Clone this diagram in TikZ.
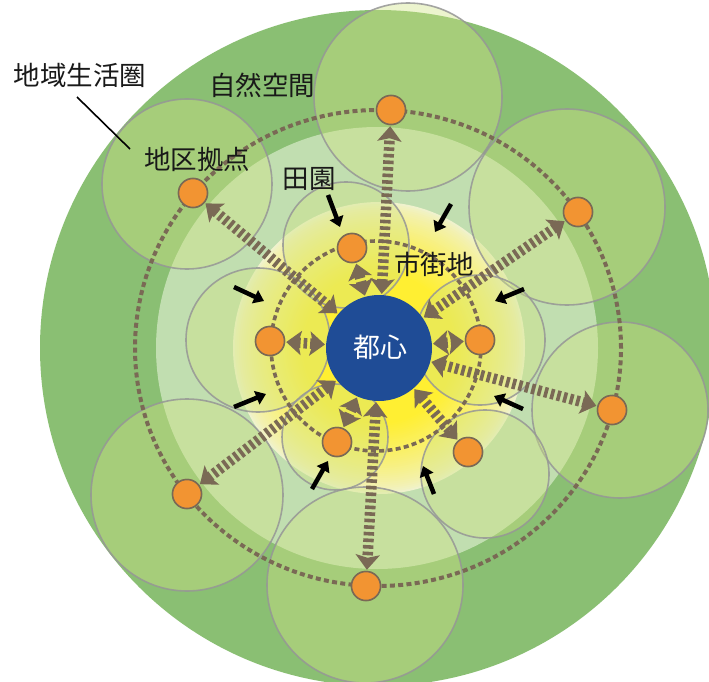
\documentclass[tikz,border=0pt]{standalone}
\usepackage{fontspec}
\setmainfont{Noto Sans CJK JP}
\usetikzlibrary{arrows.meta}
\definecolor{dgreen}{RGB}{138,191,115}
\definecolor{pale}{RGB}{193,222,176}
\definecolor{cfill}{RGB}{208,228,133}
\definecolor{cline}{RGB}{150,150,150}
\definecolor{yel}{RGB}{255,239,50}
\definecolor{yelout}{RGB}{240,242,205}
\definecolor{brownc}{RGB}{122,105,85}
\definecolor{orangec}{RGB}{242,148,50}
\definecolor{bluec}{RGB}{31,76,150}
\definecolor{txt}{RGB}{25,25,25}
\begin{document}
\begin{tikzpicture}[x=1pt,y=-1pt,
  zone/.style={fill=cfill, fill opacity=0.4, draw=cline, draw opacity=0.85, line width=1.6pt},
  ring/.style={draw=brownc, line width=4pt, dash pattern=on 5pt off 3.3pt},
  hub/.style={circle, fill=orangec, draw=brownc, line width=1.5pt, minimum size=29pt, inner sep=0pt},
  ladder/.style={draw=brownc, line width=10.5pt, dash pattern=on 3.6pt off 3pt,
    {Stealth[length=15pt,width=24pt,inset=3pt]}-{Stealth[length=15pt,width=24pt,inset=3pt]},
    shorten <=1pt, shorten >=1pt},
  push/.style={draw=black, line width=4.5pt, -{Triangle[length=10pt,width=14pt]}},
  lbl/.style={font=\fontsize{26.5}{30}\selectfont, text=txt, inner sep=0pt}]
\useasboundingbox (0,0) rectangle (709,682);
\fill[white] (0,0) rectangle (709,682);
% base zones
\fill[dgreen] (378,348) circle[radius=338pt];
\fill[pale] (377,348) circle[radius=221pt];
% yellow gradient built from concentric discs
\foreach \r in {146,144,...,76}{
  \pgfmathsetmacro{\t}{100*((146-\r)/70)^0.75}
  \fill[yel!\t!yelout] (379,348) circle[radius=\r pt];
}
% translucent catchment circles
\path[zone] (408,97) circle[radius=94pt];
\path[zone] (187,184) circle[radius=85pt];
\path[zone] (567,207) circle[radius=98pt];
\path[zone] (620,410) circle[radius=88pt];
\path[zone] (187,495) circle[radius=96pt];
\path[zone] (365,585) circle[radius=98pt];
\path[zone] (346,245) circle[radius=63pt];
\path[zone] (258,340) circle[radius=72pt];
\path[zone] (480,340) circle[radius=65pt];
\path[zone] (335,437) circle[radius=53pt];
\path[zone] (485,474) circle[radius=64pt];
% dashed rings
\draw[ring] (378,348) ellipse[x radius=243pt, y radius=238pt];
\draw[ring, line width=3.6pt] (376,346) circle[radius=105pt];
% centre and hubs
\node[circle, fill=bluec, minimum size=106pt, inner sep=0pt] (tk) at (379,348) {};
\node[hub] (o1) at (391,110) {};
\node[hub] (o2) at (193,193) {};
\node[hub] (o3) at (578,212) {};
\node[hub] (o4) at (612,410) {};
\node[hub] (o5) at (187,494) {};
\node[hub] (o6) at (366,586) {};
\node[hub] (i1) at (352,248) {};
\node[hub] (i2) at (270,341) {};
\node[hub] (i3) at (480,340) {};
\node[hub] (i4) at (337,442) {};
\node[hub] (i5) at (468,452) {};
% ladder arrows
\foreach \n in {o1,o2,o3,o4,o5,o6,i1,i2,i3,i4,i5}{
  \draw[ladder] (tk) -- (\n);
}
% redraw hubs on top
\foreach \n in {o1,o2,o3,o4,o5,o6,i1,i2,i3,i4,i5}{
  \node[hub] at (\n) {};
}
\node[font=\fontsize{27}{30}\selectfont, text=white, inner sep=0pt] (tkl) at (380,347) {都心};
% black pressure arrows
\coordinate (a1s) at (328,195); \coordinate (a1e) at (340,227);
\coordinate (a2s) at (451,204); \coordinate (a2e) at (435,232);
\coordinate (a3s) at (524,289); \coordinate (a3e) at (495,301);
\coordinate (a4s) at (234,287); \coordinate (a4e) at (264,301);
\coordinate (a5s) at (234,407); \coordinate (a5e) at (266,394);
\coordinate (a6s) at (523,409); \coordinate (a6e) at (494,396);
\coordinate (a7s) at (312,489); \coordinate (a7e) at (328,461);
\coordinate (a8s) at (434,494); \coordinate (a8e) at (423,466);
\foreach \k in {1,...,8}{ \draw[push] (a\k s) -- (a\k e); }
% labels
\node[lbl] (l1) at (80,75) {地域生活圏};
\coordinate (ld1) at (77,97);
\coordinate (ld2) at (130,149);
\draw[black, line width=1.6pt] (ld1) -- (ld2);
\node[lbl] (l2) at (262,85) {自然空間};
\node[lbl] (l3) at (197,159) {地区拠点};
\node[lbl] (l4) at (309,179) {田園};
\node[lbl] (l5) at (434,264) {市街地};
\end{tikzpicture}
\end{document}
